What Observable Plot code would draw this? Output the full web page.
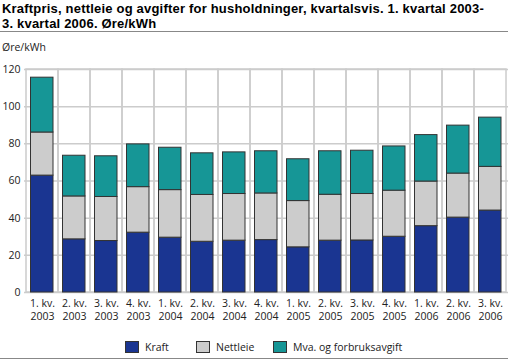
<!DOCTYPE html>
<html><head><meta charset="utf-8">
<script src="https://cdn.jsdelivr.net/npm/d3@7"></script>
<script src="https://cdn.jsdelivr.net/npm/@observablehq/plot@0.6"></script>
<style>
body{margin:0;background:#fff;font-family:"Open Sans",sans-serif;width:512px;height:361px;overflow:hidden;position:relative}
.tl{position:absolute;left:2px;white-space:nowrap;font-family:"Liberation Sans",Arial,sans-serif;font-weight:bold;font-size:13px;line-height:14px;letter-spacing:0.2px;color:#000}
#t1{top:2px}
#t2{top:17px}
#rule1{position:absolute;left:0;top:31px;width:508px;height:1px;background:#888}
#unit{position:absolute;left:2px;top:40px;font-size:10.5px;color:#222}
#chart{position:absolute;left:0;top:36px}
#legend{position:absolute;left:0;top:340px;width:512px;font-size:10.5px;color:#222}
.item{position:absolute;top:0;display:flex;align-items:center}
.sw{width:14px;height:12px;border:1px solid #333;box-sizing:border-box;margin-right:6px}
#rule2{position:absolute;left:0;top:358px;width:508px;height:1px;background:#888}
</style></head><body>
<div class="tl" id="t1">Kraftpris, nettleie og avgifter for husholdninger, kvartalsvis. 1. kvartal 2003-</div>
<div class="tl" id="t2">3. kvartal 2006. Øre/kWh</div>
<div id="rule1"></div>
<div id="unit">Øre/kWh</div>
<div id="chart"></div>
<div id="legend"></div>
<div id="rule2"></div>
<script>
const quarters = ["1. kv.","2. kv.","3. kv.","4. kv.","1. kv.","2. kv.","3. kv.","4. kv.","1. kv.","2. kv.","3. kv.","4. kv.","1. kv.","2. kv.","3. kv."];
const years = ["2003","2003","2003","2003","2004","2004","2004","2004","2005","2005","2005","2005","2006","2006","2006"];
const kraft = [62.9, 28.6, 27.7, 32.2, 29.5, 27.3, 27.9, 28.2, 24.3, 27.9, 28.0, 30.0, 35.7, 40.3, 44.1];
const nettleie = [23.2, 23.1, 23.7, 24.5, 25.6, 25.2, 25.1, 25.1, 24.9, 24.7, 25.0, 24.8, 24.0, 23.7, 23.5];
const mva = [29.5, 21.9, 21.9, 23.0, 22.8, 22.4, 22.4, 22.7, 22.5, 23.4, 23.3, 23.8, 25.0, 25.8, 26.5];
const seriesNames = ["Kraft","Nettleie","Mva. og forbruksavgift"];
const seriesColors = ["#1a3591","#cccccc","#169696"];
const yTicks = [0,20,40,60,80,100,120];

const labels = quarters.map((q,i)=>q+"\n"+years[i]);
const seriesValues = [kraft, nettleie, mva];
const data = [];
seriesNames.forEach((s,si)=>labels.forEach((l,i)=>data.push({period:l, series:s, value:seriesValues[si][i]})));

const chart = Plot.plot({
  width:512, height:300,
  marginTop:33, marginBottom:44, marginLeft:24, marginRight:4,
  style:{fontFamily:"Open Sans, sans-serif", fontSize:"10.5px", color:"#222", background:"transparent"},
  x:{domain:labels, padding:0, label:null, tickSize:0, tickPadding:5},
  y:{domain:[0,120], ticks:yTicks, label:null, tickSize:0, tickPadding:4},
  color:{domain:seriesNames, range:seriesColors},
  marks:[
    Plot.gridY(yTicks,{stroke:"#cccccc", strokeOpacity:1, strokeWidth:1.5}),
    Plot.barY(labels,{x:d=>d, y1:0, y2:120, fill:"none", stroke:"#cccccc", strokeWidth:1.5}),
    Plot.barY(data,{x:"period", y:"value", fill:"series", stroke:"#333", strokeWidth:1, insetLeft:4.5, insetRight:5, order:seriesNames}),
    Plot.axisX({tickSize:0, tickPadding:5, lineHeight:1.25}),
    Plot.axisY(yTicks,{tickSize:0, tickPadding:4})
  ]
});
document.getElementById("chart").appendChild(chart);

const legendPos = [125, 196, 273];
const lg = document.getElementById("legend");
seriesNames.forEach((s,i)=>{
  const d = document.createElement("div"); d.className="item"; d.style.left=legendPos[i]+"px";
  const sw = document.createElement("div"); sw.className="sw"; sw.style.background=seriesColors[i];
  const t = document.createElement("span"); t.textContent=s;
  d.appendChild(sw); d.appendChild(t); lg.appendChild(d);
});
</script>
</body></html>
